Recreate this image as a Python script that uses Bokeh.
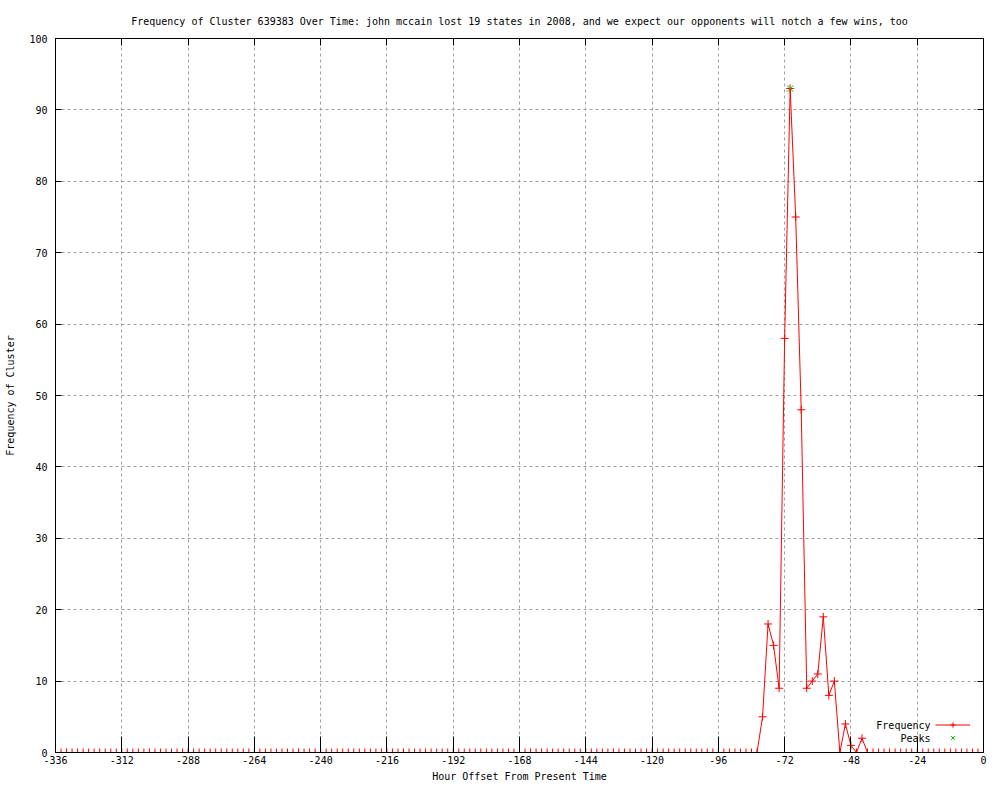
from bokeh.plotting import figure
from bokeh.models import (FixedTicker, LinearAxis, Range1d, Legend, LegendItem, Label)
from bokeh.embed import file_html
from bokeh.resources import INLINE

# ---- data ----
hours = list(range(-336, 1, 2))  # sample times (every 2 hours)
frequency = [
    0, 0, 0, 0, 0, 0, 0, 0, 0, 0, 0, 0, 0, 0, 0, 0,
    0, 0, 0, 0, 0, 0, 0, 0, 0, 0, 0, 0, 0, 0, 0, 0,
    0, 0, 0, 0, 0, 0, 0, 0, 0, 0, 0, 0, 0, 0, 0, 0,
    0, 0, 0, 0, 0, 0, 0, 0, 0, 0, 0, 0, 0, 0, 0, 0,
    0, 0, 0, 0, 0, 0, 0, 0, 0, 0, 0, 0, 0, 0, 0, 0,
    0, 0, 0, 0, 0, 0, 0, 0, 0, 0, 0, 0, 0, 0, 0, 0,
    0, 0, 0, 0, 0, 0, 0, 0, 0, 0, 0, 0, 0, 0, 0, 0,
    0, 0, 0, 0, 0, 0, 0, 0, 0, 0, 0, 0, 0, 0, 0, 0,
    5, 18, 15, 9, 58, 93, 75, 48, 9, 10, 11, 19, 8, 10, 0, 4, 1, 0, 2,
    0, 0, 0, 0, 0, 0, 0, 0, 0, 0, 0,
    0, 0, 0, 0, 0, 0, 0, 0, 0, 0, 0,
]
peak_hours = [-70]
peak_values = [93]

x_ticks = [-336, -312, -288, -264, -240, -216, -192, -168, -144, -120, -96, -72, -48, -24, 0]
x_tick_labels = ["-336", "-312", "-288", "-264", "-240", "-216", "-192", "-168",
                 "-144", "-120", "-96", "-72", "-48", "-24", "0"]
y_ticks = [0, 10, 20, 30, 40, 50, 60, 70, 80, 90, 100]

title_text = ("Frequency of Cluster 639383 Over Time: john mccain lost 19 states in 2008, "
              "and we expect our opponents will notch a few wins, too")

FONT = "DejaVu Sans Mono"
FS = "10px"

p = figure(width=992, height=784, output_backend="svg", toolbar_location=None,
           x_range=Range1d(-336, 0), y_range=Range1d(0, 100),
           min_border_left=55, min_border_right=9, min_border_top=38, min_border_bottom=31)

p.title.text = title_text
p.title.align = "center"
p.title.text_font = FONT
p.title.text_font_size = FS
p.title.text_font_style = "normal"
p.title.text_color = "black"
p.title.standoff = 24

p.outline_line_color = "black"
p.outline_line_width = 1
p.background_fill_color = "white"
p.border_fill_color = "white"

# bottom / left axes
xa = p.xaxis[0]
xa.ticker = FixedTicker(ticks=x_ticks)
xa.major_label_overrides = {t: s for t, s in zip(x_ticks, x_tick_labels)}
xa.axis_label = "Hour Offset From Present Time"
ya = p.yaxis[0]
ya.ticker = FixedTicker(ticks=y_ticks)
ya.axis_label = "Frequency of Cluster"

for ax in (xa, ya):
    ax.major_label_text_font = FONT
    ax.major_label_text_font_size = FS
    ax.major_label_text_color = "black"
    ax.axis_label_text_font = FONT
    ax.axis_label_text_font_size = FS
    ax.axis_label_text_font_style = "normal"
    ax.axis_label_text_color = "black"
    ax.major_tick_out = 0
    ax.minor_tick_line_color = None
    ax.axis_line_color = "black"
    ax.major_tick_line_color = "black"
xa.major_tick_in = 16
ya.major_tick_in = 6
xa.major_label_standoff = 3
xa.axis_label_standoff = 4
ya.major_label_standoff = 8
ya.axis_label_standoff = 10

# mirrored ticks (top and right), no labels
top = LinearAxis(ticker=FixedTicker(ticks=x_ticks),
                 major_label_overrides={t: "" for t in x_ticks},
                 major_label_standoff=0, major_tick_in=7, major_tick_out=0,
                 minor_tick_line_color=None, axis_line_color="black",
                 major_tick_line_color="black")
right = LinearAxis(ticker=FixedTicker(ticks=y_ticks),
                   major_label_overrides={t: "" for t in y_ticks},
                   major_label_standoff=0, major_tick_in=6, major_tick_out=0,
                   minor_tick_line_color=None, axis_line_color="black",
                   major_tick_line_color="black")
p.add_layout(top, "above")
p.add_layout(right, "right")

# grid
p.xgrid.ticker = FixedTicker(ticks=x_ticks)
p.ygrid.ticker = FixedTicker(ticks=y_ticks)
for g in (p.xgrid[0], p.ygrid[0]):
    g.grid_line_color = "#a0a0a0"
    g.grid_line_dash = "3 3"
    g.grid_line_width = 1

# data
line_r = p.line(hours, frequency, line_color="#ff0000", line_width=1)
pts_r = p.scatter(hours, frequency, marker="cross", size=8, line_color="#ff0000", line_width=1)
peak_r = p.scatter(peak_hours, peak_values, marker="x", size=9, line_color="#00c000", line_width=1)

# legend (gnuplot style: text on left, sample on right)
legend = Legend(items=[LegendItem(label=" ", renderers=[line_r, pts_r]),
                       LegendItem(label=" ", renderers=[peak_r])],
                location=(880, 8), glyph_width=35, glyph_height=13, label_height=13,
                label_width=0, label_standoff=0, spacing=0, padding=0, margin=0,
                border_line_color=None, background_fill_alpha=0,
                label_text_font=FONT, label_text_font_size=FS)
p.add_layout(legend, "center")
for txt, yy in (("Frequency", 27), ("Peaks", 14)):
    p.add_layout(Label(x=875, y=yy, x_units="screen", y_units="screen", text=txt,
                       text_align="right", text_baseline="middle",
                       text_font=FONT, text_font_size=FS, text_color="black"))

open("out.html", "w").write(file_html(p, INLINE))
